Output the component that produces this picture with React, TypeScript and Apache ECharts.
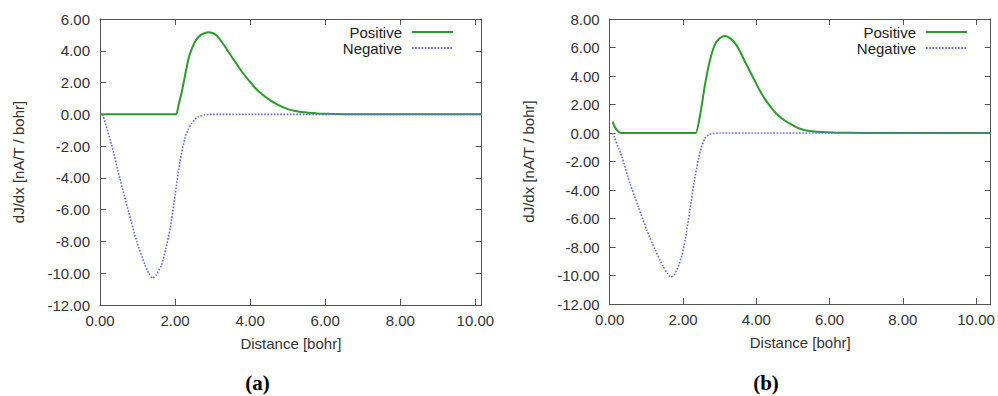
import React, { useEffect, useRef } from "react";
import * as echarts from "echarts";

// ---- data ----
const xTicks = [0, 2, 4, 6, 8, 10];
const yTicksA = [-12, -10, -8, -6, -4, -2, 0, 2, 4, 6];
const yTicksB = [-12, -10, -8, -6, -4, -2, 0, 2, 4, 6, 8];
const seriesNames = ["Positive", "Negative"];
const captions = ["(a)", "(b)"];

// (a) Positive
const posAx = [0, 1.0, 1.95, 2.03, 2.1, 2.18, 2.27, 2.36, 2.45, 2.53, 2.62, 2.71, 2.8, 2.89, 2.98, 3.07, 3.16, 3.24, 3.33, 3.42, 3.51, 3.6, 3.78, 3.96, 4.13, 4.31, 4.49, 4.67, 4.84, 5.02, 5.2, 5.5, 5.8, 6.1, 6.5, 7.0, 8.0, 10.17];
const posAy = [0, 0, 0, 0, 0.65, 1.42, 2.5, 3.52, 4.15, 4.57, 4.85, 5.03, 5.12, 5.16, 5.13, 5.03, 4.83, 4.57, 4.27, 3.94, 3.62, 3.31, 2.68, 2.16, 1.67, 1.28, 0.96, 0.69, 0.48, 0.31, 0.21, 0.11, 0.06, 0.03, 0.01, 0, 0, 0];
// (a) Negative
const negAx = [0.07, 0.31, 0.53, 0.76, 0.98, 1.2, 1.3, 1.4, 1.5, 1.64, 1.75, 1.87, 2.0, 2.13, 2.26, 2.35, 2.44, 2.53, 2.62, 2.8, 3.0, 4.0, 10.17];
const negAy = [0, -1.93, -4.03, -6.12, -8.01, -9.48, -10.0, -10.32, -10.1, -9.48, -8.5, -7.17, -5.08, -2.98, -1.51, -0.95, -0.57, -0.32, -0.15, -0.03, 0, 0, 0];
// (b) Positive
const posBx = [0.08, 0.14, 0.19, 0.28, 0.4, 1.0, 2.28, 2.35, 2.47, 2.6, 2.74, 2.87, 3.01, 3.15, 3.28, 3.42, 3.56, 3.69, 3.83, 3.97, 4.1, 4.24, 4.42, 4.6, 4.79, 4.97, 5.15, 5.33, 5.6, 5.9, 6.2, 6.6, 7.2, 8.0, 10.4];
const posBy = [0.8, 0.42, 0.22, 0.03, 0, 0, 0, 0, 1.28, 3.38, 5.14, 6.19, 6.66, 6.8, 6.66, 6.31, 5.72, 5.02, 4.32, 3.62, 2.96, 2.38, 1.75, 1.23, 0.86, 0.58, 0.34, 0.2, 0.1, 0.05, 0.02, 0.01, 0, 0, 0];
// (b) Negative
const negBx = [0.08, 0.33, 0.55, 0.78, 1.01, 1.24, 1.46, 1.57, 1.67, 1.77, 1.87, 1.97, 2.06, 2.19, 2.33, 2.47, 2.6, 2.7, 2.78, 3.0, 4.0, 10.4];
const negBy = [0, -1.65, -3.52, -5.16, -6.79, -8.2, -9.37, -9.85, -10.12, -9.9, -9.37, -8.6, -7.5, -5.39, -3.05, -1.3, -0.36, -0.12, -0.05, 0, 0, 0];

const xMaxA = 10.17;
const xMaxB = 10.4;

const zip = (xs: number[], ys: number[]) => xs.map((x, i) => [x, ys[i]]);

const FONT = '"Liberation Sans", Arial, Helvetica, sans-serif';
const FRAME = "#555";
const TEXT = "#333";
const GREEN = "#2b9b2b";
const BLUE = "#5a6cf0";
const FS = 15;

function xAxesFor(grid: number, max: number) {
  const common = {
    type: "value",
    gridIndex: grid,
    min: 0,
    max,
    splitLine: { show: false },
    axisLine: { show: true, onZero: false, lineStyle: { color: FRAME, width: 1 } },
    axisTick: { show: true, inside: true, length: 6, customValues: xTicks, lineStyle: { color: FRAME } },
  };
  return [
    {
      ...common,
      position: "bottom",
      axisLabel: {
        customValues: xTicks,
        formatter: (v: number) => v.toFixed(2),
        color: TEXT,
        fontSize: FS,
        fontFamily: FONT,
        margin: 8,
      },
      name: "Distance [bohr]",
      nameLocation: "middle",
      nameGap: 31,
      nameTextStyle: { color: TEXT, fontSize: FS, fontFamily: FONT },
    },
    { ...common, position: "top", axisLabel: { show: false } },
  ];
}

function yAxesFor(grid: number, max: number, ticks: number[]) {
  const common = {
    type: "value",
    gridIndex: grid,
    min: -12,
    max,
    interval: 2,
    splitLine: { show: false },
    axisLine: { show: true, onZero: false, lineStyle: { color: FRAME, width: 1 } },
    axisTick: { show: true, inside: true, length: 6, customValues: ticks, lineStyle: { color: FRAME } },
  };
  return [
    {
      ...common,
      position: "left",
      axisLabel: {
        customValues: ticks,
        formatter: (v: number) => v.toFixed(2),
        color: TEXT,
        fontSize: FS,
        fontFamily: FONT,
        margin: 10,
      },
      name: "dJ/dx [nA/T / bohr]",
      nameLocation: "middle",
      nameGap: 74,
      nameRotate: 90,
      nameTextStyle: { color: TEXT, fontSize: FS, fontFamily: FONT },
    },
    { ...common, position: "right", axisLabel: { show: false } },
  ];
}

function legendFor(right: number) {
  return {
    orient: "vertical",
    align: "right",
    right,
    top: 24,
    padding: 0,
    itemWidth: 41,
    itemHeight: 16,
    itemGap: 0,
    data: seriesNames,
    itemStyle: { opacity: 0 },
    textStyle: { color: "#222", fontSize: FS, fontFamily: FONT, lineHeight: 16, padding: [0, 5, 0, 0] },
    selectedMode: false,
  };
}

export default function App() {
  const ref = useRef<HTMLDivElement>(null);
  useEffect(() => {
    if (!ref.current) return;
    const chart = echarts.init(ref.current, undefined, { renderer: "svg" });
    const lineCommon = { type: "line", symbol: "none", showSymbol: false, smooth: 0.2, z: 3 };
    const posStyle = { color: GREEN, width: 2 };
    const negStyle = { color: BLUE, width: 1.6, type: [1.6, 1.6] };
    chart.setOption({
      animation: false,
      backgroundColor: "#fff",
      grid: [
        { left: 100, top: 19, width: 381.7, height: 286, containLabel: false },
        { left: 609.7, top: 19, width: 381, height: 285, containLabel: false },
      ],
      xAxis: [...xAxesFor(0, xMaxA), ...xAxesFor(1, xMaxB)],
      yAxis: [...yAxesFor(0, 6, yTicksA), ...yAxesFor(1, 8, yTicksB)],
      legend: [legendFor(998 - 454), legendFor(998 - 968)],
      series: [
        { ...lineCommon, name: seriesNames[0], xAxisIndex: 0, yAxisIndex: 0, color: GREEN, lineStyle: posStyle, data: zip(posAx, posAy) },
        { ...lineCommon, name: seriesNames[1], xAxisIndex: 0, yAxisIndex: 0, color: BLUE, lineStyle: negStyle, data: zip(negAx, negAy) },
        { ...lineCommon, name: seriesNames[0], xAxisIndex: 2, yAxisIndex: 2, color: GREEN, lineStyle: posStyle, data: zip(posBx, posBy) },
        { ...lineCommon, name: seriesNames[1], xAxisIndex: 2, yAxisIndex: 2, color: BLUE, lineStyle: negStyle, data: zip(negBx, negBy) },
      ],
      graphic: [
        {
          type: "text",
          x: 257.5,
          y: 383,
          style: {
            text: captions[0],
            fill: "#000",
            fontSize: 21,
            fontWeight: "bold",
            fontFamily: '"Liberation Serif", "DejaVu Serif", serif',
            align: "center",
            verticalAlign: "middle",
            textAlign: "center",
            textVerticalAlign: "middle",
          },
        },
        {
          type: "text",
          x: 766,
          y: 383,
          style: {
            text: captions[1],
            fill: "#000",
            fontSize: 21,
            fontWeight: "bold",
            fontFamily: '"Liberation Serif", "DejaVu Serif", serif',
            align: "center",
            verticalAlign: "middle",
            textAlign: "center",
            textVerticalAlign: "middle",
          },
        },
      ],
    });
    return () => chart.dispose();
  }, []);
  return (
    <div style={{ position: "fixed", left: 0, top: 0, width: 998, height: 396, background: "#fff" }}>
      <div ref={ref} style={{ width: 998, height: 396 }} />
    </div>
  );
}
